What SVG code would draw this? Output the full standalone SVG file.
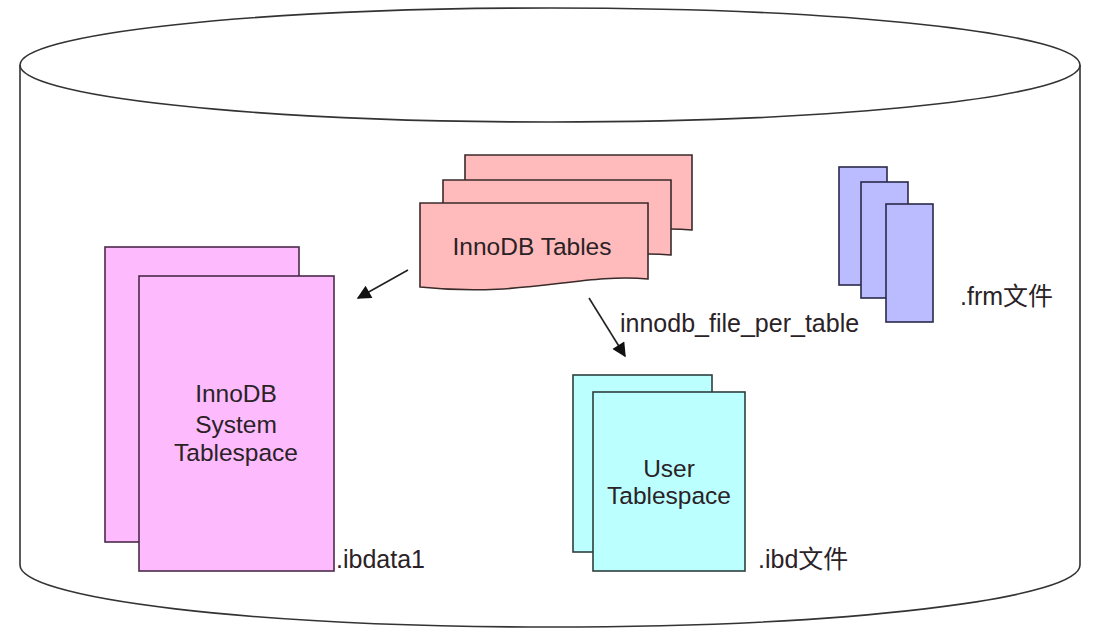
<svg xmlns="http://www.w3.org/2000/svg" width="1101" height="639" viewBox="0 0 1101 639">
<style>
.t{font-family:"Liberation Sans",Arial,"Noto Sans CJK SC",sans-serif;fill:#2a2226;}
.n{font-size:24.5px;text-anchor:middle;}
.l{font-size:25px;}
.cyl{fill:#fff;stroke:#333;stroke-width:1.6;}
.pk{fill:#fdbbfd;stroke:#4a2a4a;stroke-width:1.6;}
.cy{fill:#bbffff;stroke:#2f3f3f;stroke-width:1.6;}
.rd{fill:#ffbbbb;stroke:#3a2a2a;stroke-width:1.6;}
.bl{fill:#bbbbff;stroke:#2a2a4a;stroke-width:1.6;}
.c{stroke:#222;stroke-width:1.6;fill:none;}
</style>
<defs>
<marker id="ah" viewBox="0 0 10 10" refX="9" refY="5" markerWidth="10" markerHeight="10" markerUnits="userSpaceOnUse" orient="auto"><path d="M0,0 L10,5 L0,10 Z" fill="#111"/></marker>
<marker id="ah2" viewBox="0 0 10 10" refX="9" refY="5" markerWidth="16" markerHeight="14" markerUnits="userSpaceOnUse" orient="auto"><path d="M0,0 L10,5 L0,10 Z" fill="#111"/></marker>
</defs>
<g id="cylinder">
<path class="cyl" d="M20,65 V565 A530,62 0 0 0 1080,565 V65"/>
<ellipse class="cyl" cx="550" cy="65" rx="530" ry="57"/>
</g>
<g id="system-tablespace">
<rect class="pk" x="105" y="247" width="194" height="295"/>
<rect class="pk" x="139" y="276" width="195" height="295"/>
<text class="t n" x="236" y="402">InnoDB</text>
<text class="t n" x="236" y="433">System</text>
<text class="t n" x="236" y="461">Tablespace</text>
<text class="t l" x="336" y="568">.ibdata1</text>
</g>
<g id="innodb-tables">
<path class="rd" d="M465,155 H692 V230 C624,224 567,248 465,238 Z"/>
<path class="rd" d="M443,180 H671 V255 C603,249 546,273 443,263 Z"/>
<path class="rd" d="M420,203 H648 V279 C580,273 523,298 420,287 Z"/>
<text class="t n" x="532" y="255">InnoDB Tables</text>
</g>
<g id="frm-files">
<rect class="bl" x="839" y="167" width="48" height="118"/>
<rect class="bl" x="861" y="182" width="47" height="116"/>
<rect class="bl" x="886" y="204" width="47" height="118"/>
<text class="t l" x="960" y="305">.frm文件</text>
</g>
<g id="user-tablespace">
<rect class="cy" x="573" y="375" width="139" height="177"/>
<rect class="cy" x="593" y="392" width="152" height="179"/>
<text class="t n" x="669" y="477">User</text>
<text class="t n" x="669" y="504">Tablespace</text>
<text class="t l" x="758" y="568">.ibd文件</text>
</g>
<g id="connectors">
<line class="c" x1="408" y1="270" x2="358" y2="298" marker-end="url(#ah2)"/>
<line class="c" x1="589" y1="298" x2="625" y2="356" marker-end="url(#ah2)"/>
<text class="t l" x="620" y="332">innodb_file_per_table</text>
</g>
</svg>
